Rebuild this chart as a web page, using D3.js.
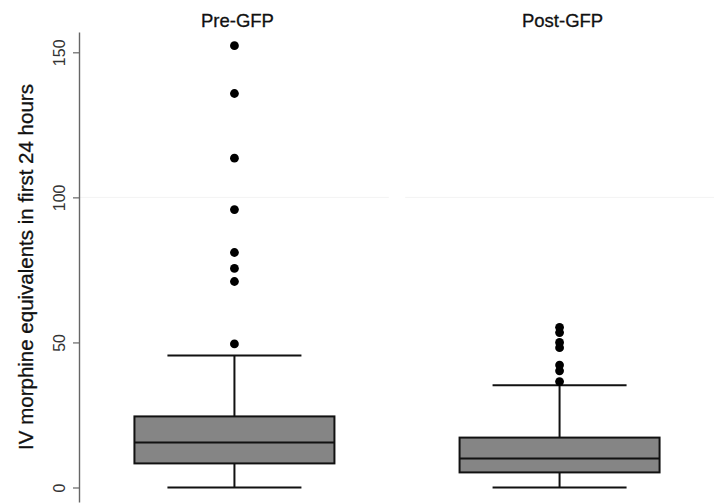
<!DOCTYPE html>
<html>
<head>
<meta charset="utf-8">
<script src="https://cdn.jsdelivr.net/npm/d3@7/dist/d3.min.js"></script>
<style>
  html, body { margin: 0; padding: 0; background: #fff; }
  svg { display: block; font-family: "Liberation Sans", Arial, sans-serif; }
</style>
</head>
<body>
<div id="chart"></div>
<script>
const groups = ['Pre-GFP', 'Post-GFP'];
// five-number summaries: lower whisker, q1, median, q3, upper whisker
const lowerWhisker = [0, 0];
const q1 = [8.3, 5.2];
const median = [15.5, 10];
const q3 = [24.5, 17.2];
const upperWhisker = [45.5, 35.2];
const outliersPre = [152.3, 135.8, 113.5, 95.8, 81, 75.5, 71, 49.5];
const outliersPost = [55.2, 53.4, 50, 48.2, 42.2, 40.2, 36.5];
const yTicks = [0, 50, 100, 150];
const yTitle = 'IV morphine equivalents in first 24 hours';

const width = 720, height = 503;
const svg = d3.select('#chart').append('svg').attr('width', width).attr('height', height);

const x = d3.scaleBand().domain(groups).range([80, 714]).paddingInner(0.05);
const y = d3.scaleLinear().domain([-5, 157]).range([502, 32]);

const boxes = groups.map((g, i) => ({
  group: g, lo: lowerWhisker[i], q1: q1[i], med: median[i], q3: q3[i], hi: upperWhisker[i],
  outliers: i === 0 ? outliersPre : outliersPost
}));

// faint gridline at 100 in each panel
svg.selectAll('.grid').data(groups).enter().append('line')
  .attr('x1', d => x(d)).attr('x2', d => x(d) + x.bandwidth())
  .attr('y1', y(100)).attr('y2', y(100))
  .attr('stroke', '#f3f3f3').attr('stroke-width', 1);

// panel titles
svg.selectAll('.ptitle').data(groups).enter().append('text')
  .attr('x', d => x(d) + x.bandwidth() / 2 + 3).attr('y', 27)
  .attr('text-anchor', 'middle').attr('font-size', 18.5).attr('fill', '#111')
  .attr('stroke', '#111').attr('stroke-width', 0.3)
  .text(d => d);

// y axis
const axis = svg.append('g').attr('transform', 'translate(79,0)')
  .call(d3.axisLeft(y).tickValues(yTicks).tickSize(6).tickPadding(12).tickSizeOuter(0));
axis.select('.domain').attr('stroke', '#666').attr('stroke-width', 1.4);
axis.selectAll('.tick line').attr('stroke', '#666').attr('stroke-width', 1.2);
axis.selectAll('.tick text')
  .attr('font-size', 16).attr('fill', '#333')
  .attr('text-anchor', 'middle').attr('x', null).attr('dy', null)
  .attr('transform', 'translate(-14,0) rotate(-90)');

svg.append('text')
  .attr('transform', `translate(33,${(y(-5) + y(157)) / 2}) rotate(-90)`)
  .attr('text-anchor', 'middle').attr('font-size', 20.5).attr('fill', '#111')
  .attr('stroke', '#111').attr('stroke-width', 0.3)
  .text(yTitle);

const boxW = 200, capW = 134;
const g = svg.selectAll('.box').data(boxes).enter().append('g')
  .attr('transform', d => `translate(${x(d.group) + x.bandwidth() / 2},0)`);

const sw = 2;
// whisker stems
g.append('line').attr('x1', 0).attr('x2', 0)
  .attr('y1', d => y(d.hi)).attr('y2', d => y(d.q3))
  .attr('stroke', '#111').attr('stroke-width', sw);
g.append('line').attr('x1', 0).attr('x2', 0)
  .attr('y1', d => y(d.q1)).attr('y2', d => y(d.lo))
  .attr('stroke', '#111').attr('stroke-width', sw);
// caps
g.append('line').attr('x1', -capW / 2).attr('x2', capW / 2)
  .attr('y1', d => y(d.hi)).attr('y2', d => y(d.hi))
  .attr('stroke', '#111').attr('stroke-width', sw);
g.append('line').attr('x1', -capW / 2).attr('x2', capW / 2)
  .attr('y1', d => y(d.lo)).attr('y2', d => y(d.lo))
  .attr('stroke', '#111').attr('stroke-width', sw);
// box
g.append('rect').attr('x', -boxW / 2).attr('width', boxW)
  .attr('y', d => y(d.q3)).attr('height', d => y(d.q1) - y(d.q3))
  .attr('fill', '#858585').attr('stroke', '#111').attr('stroke-width', sw);
g.append('line').attr('x1', -boxW / 2).attr('x2', boxW / 2)
  .attr('y1', d => y(d.med)).attr('y2', d => y(d.med))
  .attr('stroke', '#111').attr('stroke-width', sw);
// outliers
g.selectAll('circle').data(d => d.outliers).enter().append('circle')
  .attr('cx', 0).attr('cy', d => y(d)).attr('r', 4.4).attr('fill', '#000');
</script>
</body>
</html>
